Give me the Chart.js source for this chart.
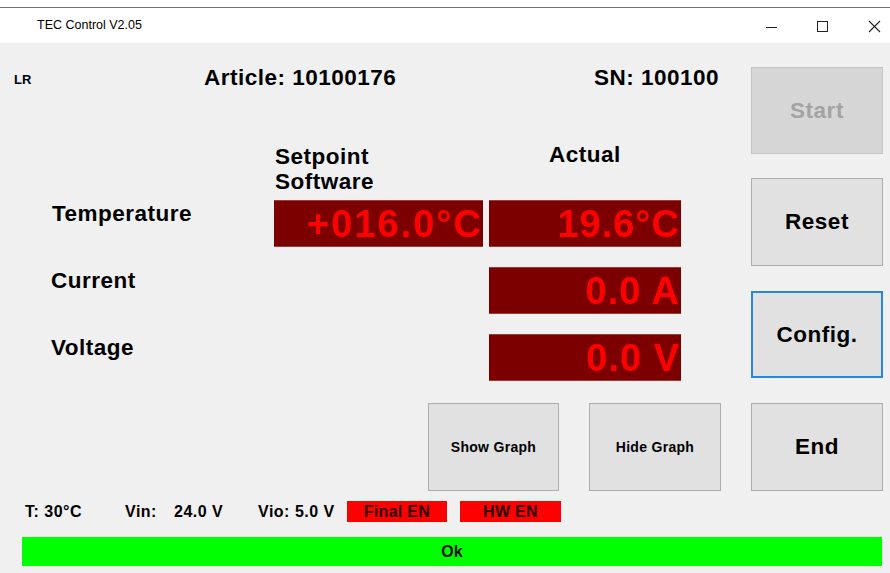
<!DOCTYPE html>
<html>
<head>
<meta charset="utf-8">
<script src="https://cdn.jsdelivr.net/npm/chart.js@4.4.1/dist/chart.umd.min.js"></script>
<style>
  html, body { margin:0; padding:0; }
  body { width:890px; height:573px; position:relative; overflow:hidden; background:#f0f0f0;
         font-family:"Liberation Sans", Arial, sans-serif; color:#000; }
  .t { position:absolute; white-space:pre; }
  .b { font-weight:bold; }
  .h { font-size:22.5px; letter-spacing:0.5px; line-height:30px; font-weight:bold; }
  .btn { position:absolute; box-sizing:border-box; background:#e1e1e1; border:1px solid #adadad;
         display:flex; align-items:center; justify-content:center; font-weight:bold; }
  .big { font-size:22.5px; letter-spacing:0.5px; }
  .small { font-size:14px; letter-spacing:0.3px; }
  .disp { position:absolute; height:46px; line-height:48px; text-align:right; color:#ff0000;
          font-weight:bold; font-size:38px; letter-spacing:1px; padding-right:1px; box-sizing:border-box; }
  canvas { position:absolute; }
  .st { font-size:16px; font-weight:bold; letter-spacing:0.5px; line-height:20px; }
  .flag { position:absolute; background:#ff0000; height:21px; line-height:21px; text-align:center;
          font-size:16px; font-weight:bold; letter-spacing:0.3px; color:#2a0000; }
</style>
</head>
<body>
<!-- window frame -->
<div style="position:absolute;left:0;top:0;width:890px;height:43px;background:#ffffff;"></div>
<div style="position:absolute;left:0;top:7px;width:890px;height:1px;background:#707070;"></div>
<div class="t" id="title" style="left:37px;top:15px;font-size:12.5px;line-height:20px;"></div>
<div style="position:absolute;left:766px;top:27px;width:11px;height:1px;background:#222;"></div>
<div style="position:absolute;left:817px;top:21px;width:9px;height:9px;border:1px solid #222;"></div>
<svg style="position:absolute;left:868px;top:20px;" width="13" height="13"><path d="M1 1 L12 12 M12 1 L1 12" stroke="#222" stroke-width="1.1"/></svg>

<div class="t b" id="lr" style="left:14px;top:70px;font-size:13px;line-height:20px;"></div>
<div class="t h" id="article" style="left:204px;top:63px;"></div>
<div class="t h" id="sn" style="left:594px;top:63px;"></div>

<div class="t h" id="hdrSet1" style="left:275px;top:142px;"></div>
<div class="t h" id="hdrSet2" style="left:275px;top:167px;"></div>
<div class="t h" id="hdrAct" style="left:505px;width:160px;text-align:center;top:140px;"></div>

<div class="t h" id="row0" style="left:52px;top:199px;"></div>
<div class="t h" id="row1" style="left:51px;top:266px;"></div>
<div class="t h" id="row2" style="left:51px;top:333px;"></div>

<canvas id="setChart" width="209" height="201" style="left:274px;top:190px;"></canvas>
<canvas id="actChart" width="192" height="201" style="left:489px;top:190px;"></canvas>

<div class="disp" id="set0" style="left:274px;top:200px;width:209px;letter-spacing:2px;padding-right:0;"></div>
<div class="disp" id="act0" style="left:489px;top:200px;width:192px;"></div>
<div class="disp" id="act1" style="left:489px;top:267px;width:192px;"></div>
<div class="disp" id="act2" style="left:489px;top:334px;width:192px;"></div>

<div class="btn big" id="bStart" style="left:751px;top:67px;width:132px;height:87px;background:#d6d6d6;border-color:#c4c4c4;color:#a3a3a3;"></div>
<div class="btn big" id="bReset" style="left:751px;top:178px;width:132px;height:88px;"></div>
<div class="btn big" id="bConfig" style="left:751px;top:291px;width:132px;height:87px;border:2px solid #2b86d9;"></div>
<div class="btn big" id="bEnd" style="left:751px;top:403px;width:132px;height:88px;"></div>
<div class="btn small" id="bShow" style="left:428px;top:403px;width:131px;height:88px;"></div>
<div class="btn small" id="bHide" style="left:589px;top:403px;width:132px;height:88px;"></div>

<div class="t st" id="stT" style="left:25px;top:502px;"></div>
<div class="t st" id="stVinL" style="left:125px;top:502px;"></div>
<div class="t st" id="stVin" style="left:174px;top:502px;"></div>
<div class="t st" id="stVio" style="left:258px;top:502px;"></div>
<div class="flag" id="flag0" style="left:347px;top:501px;width:100px;"></div>
<div class="flag" id="flag1" style="left:460px;top:501px;width:101px;"></div>

<div id="okBar" style="position:absolute;left:22px;top:537px;width:860px;height:29px;background:#00ff00;
     line-height:29px;text-align:center;font-size:16px;font-weight:bold;color:#111;"></div>

<script>
// ---- data ----
const windowTitle = 'TEC Control V2.05';
const deviceTag = 'LR';
const articleNumber = '10100176';
const serialNumber = '100100';
const columnHeaders = ['Setpoint\nSoftware', 'Actual'];
const rowLabels = ['Temperature', 'Current', 'Voltage'];
const rowUnits = ['°C', 'A', 'V'];
const setpointValues = [16.0, null, null];
const actualValues = [19.6, 0.0, 0.0];
const buttonLabels = ['Start', 'Reset', 'Config.', 'End', 'Show Graph', 'Hide Graph'];
const boardTemp = 30;
const vinValue = 24.0;
const vioValue = 5.0;
const enableFlags = ['Final EN', 'HW EN'];
const statusText = 'Ok';

// ---- text ----
const $ = id => document.getElementById(id);
$('title').textContent = windowTitle;
$('lr').textContent = deviceTag;
$('article').textContent = 'Article: ' + articleNumber;
$('sn').textContent = 'SN: ' + serialNumber;
const sp = columnHeaders[0].split('\n');
$('hdrSet1').textContent = sp[0];
$('hdrSet2').textContent = sp[1];
$('hdrAct').textContent = columnHeaders[1];
rowLabels.forEach((l, i) => { $('row' + i).textContent = l; });

function fmtSet(v, u) {
  const s = (v >= 0 ? '+' : '-') + Math.abs(v).toFixed(1).padStart(5, '0');
  return s + u;
}
function fmtAct(v, u) {
  return v.toFixed(1) + (u === '°C' ? '' : ' ') + u;
}
setpointValues.forEach((v, i) => { if (v !== null) $('set' + i).textContent = fmtSet(v, rowUnits[i]); });
actualValues.forEach((v, i) => { if (v !== null) $('act' + i).textContent = fmtAct(v, rowUnits[i]); });

['bStart','bReset','bConfig','bEnd','bShow','bHide'].forEach((id, i) => { $(id).textContent = buttonLabels[i]; });
$('stT').textContent = 'T: ' + boardTemp + '°C';
$('stVinL').textContent = 'Vin:';
$('stVin').textContent = vinValue.toFixed(1) + ' V';
$('stVio').textContent = 'Vio: ' + vioValue.toFixed(1) + ' V';
enableFlags.forEach((f, i) => { $('flag' + i).textContent = f; });
$('okBar').textContent = statusText;

// ---- display panels drawn by Chart.js (one bar per shown readout) ----
function panelChart(canvasId, values) {
  const shown = values.map(v => v === null ? null : 1);
  return new Chart($(canvasId), {
    type: 'bar',
    data: {
      labels: rowLabels,
      datasets: [{ data: shown, backgroundColor: '#7d0000', borderWidth: 0,
                   barThickness: 46, categoryPercentage: 1, barPercentage: 1 }]
    },
    options: {
      indexAxis: 'y',
      responsive: false,
      animation: false,
      devicePixelRatio: 1,
      layout: { padding: 0 },
      scales: {
        x: { display: false, min: 0, max: 1 },
        y: { display: false }
      },
      plugins: { legend: { display: false }, tooltip: { enabled: false } }
    }
  });
}
panelChart('setChart', setpointValues);
panelChart('actChart', actualValues);
</script>
</body>
</html>
